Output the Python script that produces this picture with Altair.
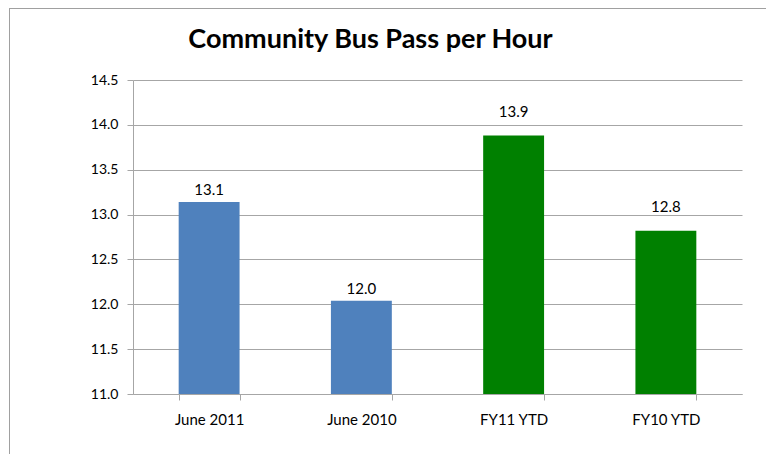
import altair as alt
import pandas as pd

categories = ["June 2011", "June 2010", "FY11 YTD", "FY10 YTD"]
values = [13.14, 12.04, 13.88, 12.82]
colors = ["#4F81BD", "#4F81BD", "#008000", "#008000"]
y_ticks = [11.0, 11.5, 12.0, 12.5, 13.0, 13.5, 14.0, 14.5]

df = pd.DataFrame({"category": categories, "value": values, "color": colors})

FONT = "Lato"

base = alt.Chart(df)

x_enc = alt.X(
    "category:N",
    sort=categories,
    scale=alt.Scale(paddingInner=0.6, paddingOuter=0.3),
    axis=alt.Axis(
        title=None, labelAngle=0, tickBand="extent", grid=False,
        domainColor="#a6a6a6", tickColor="#a6a6a6", tickSize=6,
        labelPadding=12, labelFont=FONT, labelFontSize=15, labelColor="#000000",
    ),
)
y_enc = alt.Y(
    "value:Q",
    scale=alt.Scale(domain=[11.0, 14.5], zero=False, nice=False),
    axis=alt.Axis(
        title=None, values=y_ticks, format=".1f", grid=True,
        gridColor="#a6a6a6", domainColor="#a6a6a6", tickColor="#a6a6a6",
        tickSize=6, labelPadding=9, labelFont=FONT, labelFontSize=14,
        labelColor="#000000",
    ),
)

bars = base.mark_bar().encode(
    x=x_enc,
    y=y_enc,
    y2=alt.datum(11.0),
    color=alt.Color("color:N", scale=None, legend=None),
)

def value_labels(color, dy):
    return base.transform_filter(alt.datum.color == color).mark_text(
        baseline="bottom", dy=dy, font=FONT, fontSize=15, color="#000000"
    ).encode(
        x=alt.X("category:N", sort=categories),
        y=alt.Y("value:Q"),
        text=alt.Text("value:Q", format=".1f"),
    )

labels_blue = value_labels("#4F81BD", -4)
labels_green = value_labels("#008000", -16)

frame_left = base.mark_rule(color="#a0a0a0", strokeWidth=1).encode(
    x=alt.value(-123.5), y=alt.value(-71.5), y2=alt.value(400)
)
frame_top = base.mark_rule(color="#a0a0a0", strokeWidth=1).encode(
    x=alt.value(-123.5), x2=alt.value(700), y=alt.value(-71.5)
)

chart = alt.layer(frame_left, frame_top, bars, labels_blue, labels_green).properties(
    width=609,
    height=314,
    autosize=alt.AutoSizeParams(type="none"),
    padding={"left": 125, "top": 72, "right": 24, "bottom": 60},
    title=alt.TitleParams(
        "Community Bus Pass per Hour",
        font=FONT, fontSize=27, fontWeight="bold", color="#000000",
        anchor="middle", frame="group", dx=-67, offset=-67, baseline="alphabetic",
    ),
).configure_view(stroke=None)

chart.save("out.html", embed_options={"renderer": "svg", "actions": False})
